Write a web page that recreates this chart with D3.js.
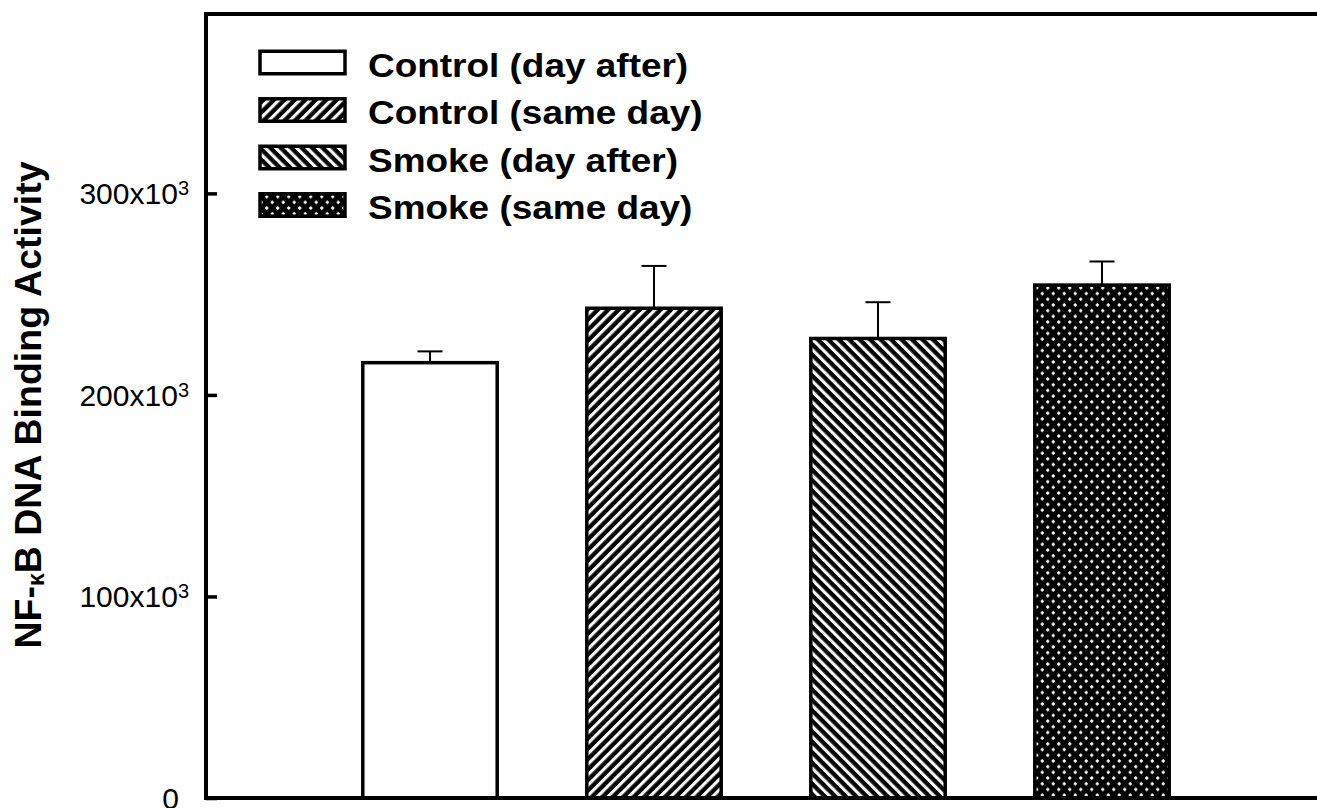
<!DOCTYPE html>
<html>
<head>
<meta charset="utf-8">
<script src="https://cdn.jsdelivr.net/npm/d3@7/dist/d3.min.js"></script>
<style>
  html, body { margin: 0; padding: 0; background: #fff; overflow: hidden; }
  svg { display: block; }
</style>
</head>
<body>
<svg id="chart" width="1317" height="808"></svg>
<script>
// Groups, mean NF-kB binding activity and upper error (SEM)
const categories = ["Control (day after)", "Control (same day)", "Smoke (day after)", "Smoke (same day)"];
const values = [216000, 243000, 228000, 254500];
const errors = [5600, 21000, 18000, 11700];
const yTickValues = [0, 100000, 200000, 300000];
const yTickMantissa = ["0", "100x10", "200x10", "300x10"];
const yTickExponent = ["", "3", "3", "3"];
const fillIds = ["none", "hatch-fwd", "hatch-back", "dots"];

const W = 1317, H = 808;
const margin = { left: 206, top: 14 };
const plotW = 1120, plotH = 784;

const svg = d3.select("#chart");
svg.append("rect").attr("width", W).attr("height", H).attr("fill", "#fff");

// ---- fill patterns ----
const defs = svg.append("defs");
const hatchPeriod = 7.4;
function hatch(id, angle) {
  const p = defs.append("pattern")
    .attr("id", id)
    .attr("patternUnits", "userSpaceOnUse")
    .attr("width", hatchPeriod).attr("height", hatchPeriod)
    .attr("patternTransform", `rotate(${angle})`);
  p.append("rect").attr("width", hatchPeriod).attr("height", hatchPeriod).attr("fill", "#000");
  p.append("rect").attr("x", 0).attr("width", hatchPeriod * 0.42).attr("height", hatchPeriod).attr("fill", "#fff");
}
hatch("hatch-fwd", 45);
hatch("hatch-back", -45);

// white plus-shaped dots on black, in a staggered lattice
const dotW = 11, dotH = 11.4;
const dp = defs.append("pattern")
  .attr("id", "dots")
  .attr("patternUnits", "userSpaceOnUse")
  .attr("width", dotW).attr("height", dotH);
dp.append("rect").attr("width", dotW).attr("height", dotH).attr("fill", "#000");
[[dotW * 0.25, dotH * 0.25], [dotW * 0.75, dotH * 0.75]].forEach(([cx, cy]) => {
  dp.append("rect").attr("x", cx - 1.6).attr("y", cy - 0.8).attr("width", 3.2).attr("height", 1.6).attr("fill", "#fff");
  dp.append("rect").attr("x", cx - 0.8).attr("y", cy - 1.6).attr("width", 1.6).attr("height", 3.2).attr("fill", "#fff");
});

function fillFor(i) {
  return fillIds[i] === "none" ? "#fff" : `url(#${fillIds[i]})`;
}

// ---- scales ----
const x = d3.scaleBand()
  .domain(categories)
  .range([margin.left, margin.left + plotW])
  .paddingInner(0.4)
  .paddingOuter(0.7);

const y = d3.scaleLinear()
  .domain([0, 389000])
  .range([margin.top + plotH, margin.top]);

// ---- bars ----
const bars = svg.append("g");
bars.selectAll("rect")
  .data(categories)
  .join("rect")
  .attr("x", d => x(d))
  .attr("width", x.bandwidth())
  .attr("y", (d, i) => y(values[i]))
  .attr("height", (d, i) => y(0) - y(values[i]))
  .attr("fill", (d, i) => fillFor(i))
  .attr("stroke", "#000")
  .attr("stroke-width", 3.5);

// ---- error bars (upper only) ----
const errG = svg.append("g").attr("stroke", "#000").attr("stroke-width", 2);
categories.forEach((c, i) => {
  const cx = x(c) + x.bandwidth() / 2;
  errG.append("line")
    .attr("x1", cx).attr("x2", cx)
    .attr("y1", y(values[i])).attr("y2", y(values[i] + errors[i]));
  errG.append("line")
    .attr("x1", cx - 12.5).attr("x2", cx + 12.5)
    .attr("y1", y(values[i] + errors[i])).attr("y2", y(values[i] + errors[i]));
});

// ---- frame: left, top and bottom edges, running off the right side ----
const frame = svg.append("g").attr("stroke", "#000").attr("stroke-width", 4);
const xR = W + 10;
frame.append("line").attr("x1", margin.left).attr("x2", margin.left).attr("y1", y.range()[1] - 2).attr("y2", y.range()[0] + 2);
frame.append("line").attr("x1", margin.left).attr("x2", xR).attr("y1", y.range()[1]).attr("y2", y.range()[1]);
frame.append("line").attr("x1", margin.left).attr("x2", xR).attr("y1", y.range()[0]).attr("y2", y.range()[0]);

// ---- y axis (inward ticks) ----
const yAxis = d3.axisLeft(y)
  .tickValues(yTickValues)
  .tickSizeInner(-11)
  .tickSizeOuter(0)
  .tickPadding(17)
  .tickFormat("");

const yg = svg.append("g")
  .attr("transform", `translate(${margin.left},0)`)
  .call(yAxis);
yg.select(".domain").remove();
yg.selectAll(".tick line").attr("stroke", "#000").attr("stroke-width", 3.5);
yg.selectAll(".tick text").each(function(d) {
  const i = yTickValues.indexOf(d);
  const t = d3.select(this)
    .attr("font-family", "'Liberation Sans', Arial, sans-serif")
    .attr("font-size", 30)
    .attr("fill", "#000")
    .attr("dy", "0.35em")
    .attr("dx", yTickExponent[i] ? 0 : -10);
  t.text(null);
  t.append("tspan").text(yTickMantissa[i]);
  if (yTickExponent[i]) {
    t.append("tspan").attr("font-size", 20).attr("dy", -9).text(yTickExponent[i]);
  }
});

// ---- y axis title ----
const title = svg.append("text")
  .attr("transform", `translate(41,405) rotate(-90)`)
  .attr("text-anchor", "middle")
  .attr("font-family", "'Liberation Sans', Arial, sans-serif")
  .attr("font-weight", "bold")
  .attr("font-size", 37.5)
  .attr("fill", "#000");
title.append("tspan").text("NF-");
title.append("tspan").attr("font-size", 23).attr("dy", 3).text("κ");
title.append("tspan").attr("dy", -3).text("B DNA Binding Activity");

// ---- legend ----
const legend = svg.append("g");
const legX = 260, legY0 = 62.5, legStep = 47.5;
const swW = 85, swH = 22.5;
categories.forEach((c, i) => {
  const cy = legY0 + i * legStep;
  legend.append("rect")
    .attr("x", legX).attr("y", cy - swH / 2)
    .attr("width", swW).attr("height", swH)
    .attr("fill", fillFor(i))
    .attr("stroke", "#000")
    .attr("stroke-width", 3.5);
  legend.append("text")
    .attr("transform", `translate(368,${cy + 14}) scale(1.12,1)`)
    .attr("font-family", "'Liberation Sans', Arial, sans-serif")
    .attr("font-weight", "bold")
    .attr("font-size", 33)
    .attr("fill", "#000")
    .text(c);
});
</script>
</body>
</html>
